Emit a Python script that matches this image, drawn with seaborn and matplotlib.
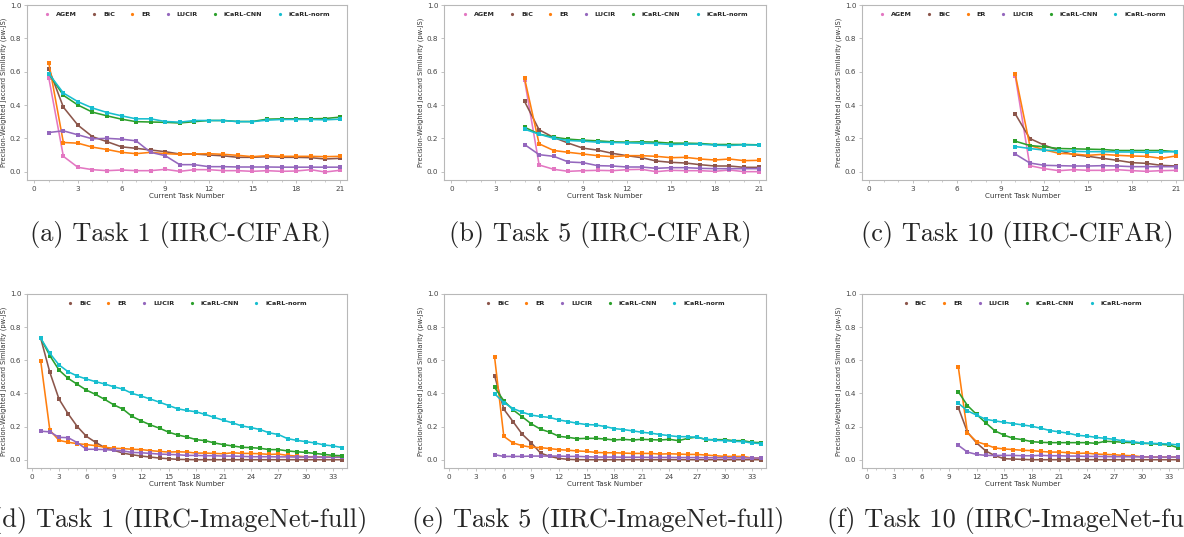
import matplotlib
matplotlib.use("Agg")
import matplotlib.pyplot as plt
from matplotlib.lines import Line2D
from matplotlib.ticker import MultipleLocator
import pandas as pd
import seaborn as sns

# ---------------------------------------------------------------- data
methods_cifar = ["AGEM", "BiC", "ER", "LUCIR", "iCaRL-CNN", "iCaRL-norm"]
methods_imagenet = ["BiC", "ER", "LUCIR", "iCaRL-CNN", "iCaRL-norm"]

cifar_last_task = 21
imagenet_last_task = 34

# IIRC-CIFAR, task 1 (tasks 1..21)
cifar_task1 = {
    "AGEM": [0.562, 0.092, 0.026, 0.012, 0.006, 0.010, 0.006, 0.006, 0.014, 0.002, 0.012,
             0.012, 0.006, 0.006, 0.002, 0.006, 0.002, 0.004, 0.012, -0.002, 0.008],
    "BiC": [0.618, 0.387, 0.279, 0.210, 0.180, 0.149, 0.140, 0.130, 0.120, 0.106, 0.106,
            0.100, 0.095, 0.086, 0.086, 0.090, 0.086, 0.086, 0.084, 0.076, 0.080],
    "ER": [0.653, 0.175, 0.171, 0.147, 0.133, 0.116, 0.108, 0.116, 0.108, 0.104, 0.106,
           0.108, 0.104, 0.098, 0.090, 0.096, 0.092, 0.092, 0.092, 0.090, 0.092],
    "LUCIR": [0.235, 0.245, 0.221, 0.197, 0.200, 0.195, 0.185, 0.116, 0.096, 0.042, 0.042,
              0.030, 0.030, 0.028, 0.028, 0.028, 0.027, 0.027, 0.027, 0.027, 0.027],
    "iCaRL-CNN": [0.588, 0.458, 0.400, 0.357, 0.335, 0.315, 0.300, 0.298, 0.296, 0.292, 0.300,
                  0.307, 0.307, 0.301, 0.301, 0.315, 0.317, 0.317, 0.317, 0.319, 0.327],
    "iCaRL-norm": [0.588, 0.472, 0.420, 0.382, 0.355, 0.335, 0.317, 0.317, 0.301, 0.297, 0.307,
                   0.307, 0.307, 0.300, 0.300, 0.309, 0.313, 0.313, 0.313, 0.311, 0.315],
}

# IIRC-CIFAR, task 5 (tasks 5..21)
cifar_task5 = {
    "AGEM": [0.552, 0.040, 0.014, 0.002, 0.006, 0.008, 0.006, 0.012, 0.014, 0.000, 0.008,
             0.006, 0.006, 0.002, 0.010, 0.000, 0.000],
    "BiC": [0.422, 0.251, 0.205, 0.171, 0.141, 0.129, 0.110, 0.096, 0.084, 0.064, 0.056,
            0.052, 0.042, 0.034, 0.034, 0.026, 0.026],
    "ER": [0.562, 0.167, 0.127, 0.116, 0.106, 0.096, 0.090, 0.096, 0.096, 0.092, 0.084,
           0.086, 0.076, 0.070, 0.076, 0.066, 0.068],
    "LUCIR": [0.163, 0.102, 0.092, 0.058, 0.054, 0.036, 0.034, 0.028, 0.028, 0.020, 0.024,
              0.024, 0.020, 0.018, 0.018, 0.018, 0.018],
    "iCaRL-CNN": [0.267, 0.225, 0.207, 0.195, 0.189, 0.185, 0.179, 0.177, 0.179, 0.177, 0.171,
                  0.171, 0.169, 0.163, 0.163, 0.163, 0.161],
    "iCaRL-norm": [0.255, 0.225, 0.200, 0.187, 0.183, 0.177, 0.175, 0.173, 0.171, 0.169, 0.163,
                   0.165, 0.165, 0.159, 0.157, 0.161, 0.159],
}

# IIRC-CIFAR, task 10 (tasks 10..21)
cifar_task10 = {
    "AGEM": [0.576, 0.036, 0.018, 0.006, 0.012, 0.008, 0.008, 0.012, 0.006, 0.002, 0.006, 0.008],
    "BiC": [0.347, 0.199, 0.159, 0.127, 0.102, 0.092, 0.080, 0.068, 0.054, 0.050, 0.038, 0.034],
    "ER": [0.586, 0.157, 0.131, 0.110, 0.106, 0.098, 0.104, 0.098, 0.094, 0.092, 0.080, 0.094],
    "LUCIR": [0.106, 0.052, 0.038, 0.036, 0.034, 0.034, 0.036, 0.034, 0.030, 0.030, 0.030, 0.030],
    "iCaRL-CNN": [0.183, 0.157, 0.149, 0.139, 0.137, 0.135, 0.133, 0.127, 0.127, 0.127, 0.127, 0.120],
    "iCaRL-norm": [0.151, 0.139, 0.129, 0.125, 0.122, 0.120, 0.120, 0.118, 0.118, 0.116, 0.118, 0.120],
}

# IIRC-ImageNet-full, task 1 (tasks 1..34)
imagenet_task1 = {
    "BiC": [0.733, 0.527, 0.366, 0.277, 0.200, 0.141, 0.105, 0.073, 0.057, 0.040, 0.030, 0.022,
            0.016, 0.010, 0.006, 0.002, 0.001, 0.000, 0.000, 0.000, 0.000, 0.000, 0.000, 0.000,
            0.000, 0.000, 0.000, 0.000, 0.000, 0.000, 0.000, 0.000, 0.000, 0.000],
    "ER": [0.596, 0.178, 0.117, 0.105, 0.097, 0.091, 0.085, 0.075, 0.069, 0.067, 0.063, 0.061,
           0.055, 0.050, 0.046, 0.048, 0.046, 0.040, 0.040, 0.038, 0.036, 0.042, 0.038, 0.038,
           0.036, 0.032, 0.034, 0.026, 0.022, 0.018, 0.018, 0.016, 0.016, 0.016],
    "LUCIR": [0.172, 0.168, 0.135, 0.133, 0.103, 0.063, 0.063, 0.061, 0.057, 0.053, 0.044, 0.042,
              0.038, 0.034, 0.032, 0.030, 0.026, 0.026, 0.024, 0.024, 0.022, 0.022, 0.020, 0.018,
              0.018, 0.018, 0.017, 0.017, 0.016, 0.016, 0.016, 0.015, 0.015, 0.015],
    "iCaRL-CNN": [0.733, 0.628, 0.541, 0.491, 0.455, 0.420, 0.394, 0.364, 0.331, 0.305, 0.261,
                  0.234, 0.210, 0.190, 0.166, 0.149, 0.137, 0.121, 0.115, 0.101, 0.091, 0.083,
                  0.075, 0.073, 0.069, 0.061, 0.061, 0.053, 0.048, 0.044, 0.038, 0.032, 0.026, 0.024],
    "iCaRL-norm": [0.733, 0.642, 0.572, 0.531, 0.505, 0.487, 0.471, 0.457, 0.440, 0.426, 0.400,
                   0.384, 0.366, 0.347, 0.327, 0.307, 0.297, 0.289, 0.273, 0.255, 0.238, 0.222,
                   0.204, 0.194, 0.182, 0.162, 0.152, 0.127, 0.117, 0.109, 0.101, 0.089, 0.083, 0.073],
}

# IIRC-ImageNet-full, task 5 (tasks 5..34)
imagenet_task5 = {
    "BiC": [0.507, 0.305, 0.230, 0.154, 0.101, 0.040, 0.020, 0.008, 0.002, 0.000, 0.000, 0.000,
            0.000, 0.000, 0.000, 0.000, 0.000, 0.000, 0.000, 0.000, 0.000, 0.000, 0.000, 0.000,
            0.000, 0.000, 0.000, 0.000, 0.000, 0.000],
    "ER": [0.618, 0.141, 0.101, 0.085, 0.075, 0.073, 0.067, 0.061, 0.057, 0.053, 0.050, 0.044,
           0.042, 0.042, 0.040, 0.038, 0.038, 0.038, 0.034, 0.036, 0.034, 0.032, 0.032, 0.028,
           0.024, 0.020, 0.020, 0.020, 0.010, 0.010],
    "LUCIR": [0.030, 0.020, 0.020, 0.020, 0.022, 0.022, 0.022, 0.022, 0.020, 0.020, 0.018, 0.016,
              0.016, 0.016, 0.015, 0.015, 0.015, 0.014, 0.014, 0.014, 0.013, 0.013, 0.013, 0.012,
              0.012, 0.012, 0.011, 0.011, 0.010, 0.010],
    "iCaRL-CNN": [0.436, 0.356, 0.301, 0.259, 0.216, 0.184, 0.166, 0.141, 0.135, 0.127, 0.129,
                  0.129, 0.125, 0.119, 0.123, 0.119, 0.123, 0.121, 0.119, 0.123, 0.115, 0.129,
                  0.137, 0.121, 0.121, 0.121, 0.115, 0.115, 0.105, 0.103],
    "iCaRL-norm": [0.398, 0.345, 0.309, 0.287, 0.269, 0.261, 0.255, 0.240, 0.230, 0.220, 0.212,
                   0.210, 0.200, 0.188, 0.182, 0.174, 0.166, 0.160, 0.152, 0.145, 0.139, 0.139,
                   0.135, 0.123, 0.117, 0.115, 0.111, 0.109, 0.101, 0.097],
}

# IIRC-ImageNet-full, task 10 (tasks 10..34)
imagenet_task10 = {
    "BiC": [0.315, 0.166, 0.101, 0.053, 0.024, 0.006, 0.004, 0.002, 0.000, 0.000, 0.000, 0.000,
            0.000, 0.000, 0.000, 0.000, 0.000, 0.000, 0.000, 0.000, 0.000, 0.000, 0.000, 0.000, 0.000],
    "ER": [0.560, 0.162, 0.109, 0.091, 0.071, 0.065, 0.061, 0.057, 0.055, 0.050, 0.046, 0.046,
           0.042, 0.038, 0.040, 0.034, 0.032, 0.030, 0.026, 0.024, 0.018, 0.016, 0.016, 0.016, 0.016],
    "LUCIR": [0.087, 0.046, 0.032, 0.026, 0.026, 0.026, 0.026, 0.024, 0.024, 0.026, 0.024, 0.024,
              0.022, 0.022, 0.020, 0.020, 0.019, 0.018, 0.018, 0.017, 0.017, 0.016, 0.016, 0.016, 0.016],
    "iCaRL-CNN": [0.410, 0.327, 0.273, 0.222, 0.174, 0.148, 0.129, 0.121, 0.109, 0.105, 0.103,
                  0.103, 0.103, 0.103, 0.103, 0.099, 0.111, 0.109, 0.105, 0.103, 0.099, 0.097,
                  0.093, 0.089, 0.072],
    "iCaRL-norm": [0.341, 0.295, 0.269, 0.244, 0.234, 0.226, 0.218, 0.210, 0.202, 0.190, 0.176,
                   0.168, 0.160, 0.147, 0.143, 0.135, 0.129, 0.123, 0.113, 0.109, 0.101, 0.099,
                   0.097, 0.095, 0.089],
}

captions = [
    "(a) Task 1 (IIRC-CIFAR)",
    "(b) Task 5 (IIRC-CIFAR)",
    "(c) Task 10 (IIRC-CIFAR)",
    "(d) Task 1 (IIRC-ImageNet-full)",
    "(e) Task 5 (IIRC-ImageNet-full)",
    "(f) Task 10 (IIRC-ImageNet-full)",
]

palette = {
    "AGEM": "#e377c2",
    "BiC": "#8c564b",
    "ER": "#ff7f0e",
    "LUCIR": "#9467bd",
    "iCaRL-CNN": "#2ca02c",
    "iCaRL-norm": "#17becf",
}

# ---------------------------------------------------------------- style
sns.set_theme(style="ticks")
plt.rcParams.update({
    "font.family": ["DejaVu Sans"],
    "axes.edgecolor": "#b8b8b8",
    "axes.linewidth": 0.8,
    "xtick.color": "#b8b8b8",
    "ytick.color": "#b8b8b8",
    "xtick.labelcolor": "#444444",
    "ytick.labelcolor": "#444444",
    "axes.labelcolor": "#333333",
})

W, H = 1184, 537
fig = plt.figure(figsize=(W / 100, H / 100), dpi=100)


def px_axes(left, top, right, bottom):
    return fig.add_axes([left / W, 1 - bottom / H, (right - left) / W, (bottom - top) / H])


def to_long(series, first_task, last_task):
    tasks = list(range(first_task, last_task + 1))
    rows = []
    for method, values in series.items():
        for t, v in zip(tasks, values):
            rows.append({"task": t, "pwjs": v, "method": method})
    return pd.DataFrame(rows)


panels = [
    (cifar_task1, 1, cifar_last_task, methods_cifar, (27, 5, 347, 180)),
    (cifar_task5, 5, cifar_last_task, methods_cifar, (444, 5, 766, 180)),
    (cifar_task10, 10, cifar_last_task, methods_cifar, (862, 5, 1183, 180)),
    (imagenet_task1, 1, imagenet_last_task, methods_imagenet, (27, 294, 347, 468)),
    (imagenet_task5, 5, imagenet_last_task, methods_imagenet, (444, 294, 766, 468)),
    (imagenet_task10, 10, imagenet_last_task, methods_imagenet, (862, 294, 1183, 468)),
]

for series, first, last, methods, box in panels:
    ax = px_axes(*box)
    df = to_long(series, first, last)
    sns.lineplot(data=df, x="task", y="pwjs", hue="method", hue_order=methods,
                 palette=palette, marker="s", markersize=2.8, markeredgewidth=0,
                 linewidth=1.15, errorbar=None, legend=False, ax=ax)
    ax.set_xlim(-0.5, last + 0.5)
    ax.set_ylim(-0.05, 1.0)
    ax.xaxis.set_major_locator(MultipleLocator(3))
    ax.xaxis.set_minor_locator(MultipleLocator(1))
    ax.yaxis.set_major_locator(MultipleLocator(0.2))
    ax.tick_params(axis="both", which="major", length=2.5, width=0.6, pad=1.5, labelsize=5.2)
    ax.tick_params(axis="x", which="minor", length=1.5, width=0.5)
    ax.set_xlabel("Current Task Number", fontsize=5.1, labelpad=1)
    ax.set_ylabel("Precision-Weighted Jaccard Similarity (pw-JS)", fontsize=4.8, labelpad=2)

    handles = [Line2D([], [], linestyle="none", marker="o", markersize=2.3,
                      markeredgewidth=0, color=palette[m]) for m in methods]
    ax.legend(handles, methods, loc="upper center", bbox_to_anchor=(0.5, 0.995),
              ncol=len(methods), frameon=False, prop={"weight": "bold", "size": 4.6},
              handlelength=1.0, handletextpad=0.9, columnspacing=2.2)

# sub-figure captions in a Computer Modern face
caption_pos = [(30, 235), (449, 235), (861, 235), (-8, 520), (412, 520), (827, 520)]
for text, (x, y) in zip(captions, caption_pos):
    fig.text(x / W, 1 - y / H, text, ha="left", va="center", fontsize=19,
             family=["cmr10", "DejaVu Serif"])

fig.savefig("out.png", dpi=100)
